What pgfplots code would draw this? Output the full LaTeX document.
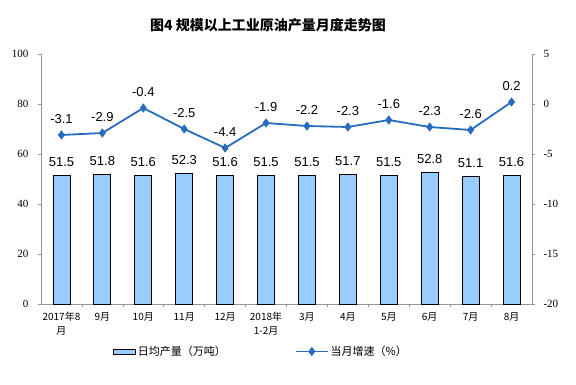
\documentclass[border=0pt]{standalone}
\usepackage{pgfplots}
\pgfplotsset{compat=1.18}
\usepackage{fontspec}
\setmainfont{Liberation Sans}
\newfontfamily\cjk{Noto Sans CJK SC}
\newfontfamily\serif{Liberation Serif}
\definecolor{barblue}{RGB}{153,204,255}
\definecolor{lineblue}{RGB}{40,108,190}
\definecolor{axgray}{RGB}{150,150,150}
\begin{document}
\begin{tikzpicture}
\useasboundingbox (-41pt,-80pt) rectangle (535pt,304pt);
\begin{axis}[
  scale only axis, width=491pt, height=250pt,
  xmin=-0.5, xmax=11.5, ymin=0, ymax=100,
  axis x line*=bottom, axis y line*=left,
  axis line style={draw=axgray, line width=0.6pt},
  xtick={0,...,11},
  xticklabels={{2017年8\\月},9月,10月,11月,12月,{2018年\\1-2月},3月,4月,5月,6月,7月,8月},
  x tick label style={font=\cjk\fontsize{10}{14}\selectfont, align=center, anchor=north, yshift=-2pt},
  major x tick style={draw=none},
  minor x tick num=1,
  minor x tick style={draw=axgray, line width=0.6pt},
  minor tick length=3pt,
  ytick={0,20,...,100},
  y tick label style={font=\serif\fontsize{11}{12}\selectfont, xshift=-6pt},
  /pgf/number format/assume math mode=true,
  tick align=outside, major tick length=3pt,
  major y tick style={draw=axgray, line width=0.6pt},
  legend style={at={(0.14,-0.19)}, anchor=west, draw=none, fill=none,
    legend columns=2, font=\cjk\fontsize{11}{13}\selectfont,
    /tikz/every even column/.append style={column sep=67pt}},
]
\addplot[ybar, bar width=17pt, fill=barblue, draw=black, line width=0.8pt,
  nodes near coords,
  nodes near coords style={font=\fontsize{13}{14}\selectfont, color=black, anchor=south, yshift=5pt,
    /pgf/number format/.cd, fixed, fixed zerofill, precision=1},
  legend image code/.code={\draw[fill=barblue, draw=black, line width=1pt] (0pt,-2.5pt) rectangle (22pt,2.5pt);}
] coordinates {
  (0,51.5) (1,51.8) (2,51.6) (3,52.3) (4,51.6) (5,51.5)
  (6,51.5) (7,51.7) (8,51.5) (9,52.8) (10,51.1) (11,51.6)
};
\addlegendentry{日均产量（万吨）}
\addlegendimage{legend image code/.code={\draw[lineblue, line width=1.8pt, mark=diamond*, mark size=3.2pt, mark repeat=2, mark phase=2] plot coordinates {(0pt,0pt)(16pt,0pt)(32pt,0pt)};}}
\addlegendentry{当月增速（\%）}
\end{axis}
\begin{axis}[
  scale only axis, width=491pt, height=250pt,
  xmin=-0.5, xmax=11.5, ymin=-20, ymax=5,
  axis y line*=right, axis x line=none,
  axis line style={draw=axgray, line width=0.6pt},
  ytick={-20,-15,...,5},
  y tick label style={font=\serif\fontsize{11}{12}\selectfont, xshift=5pt},
  /pgf/number format/assume math mode=true,
  tick align=outside, major tick length=3pt,
  major y tick style={draw=axgray, line width=0.6pt},
]
\addplot[lineblue, line width=1.8pt, mark=diamond*, mark size=3.2pt,
  nodes near coords,
  nodes near coords style={font=\fontsize{13}{14}\selectfont, color=black, anchor=south, yshift=7pt,
    /pgf/number format/.cd, fixed, fixed zerofill, precision=1}
] coordinates {
  (0,-3.1) (1,-2.9) (2,-0.4) (3,-2.5) (4,-4.4) (5,-1.9)
  (6,-2.2) (7,-2.3) (8,-1.6) (9,-2.3) (10,-2.6) (11,0.2)
};
\end{axis}
\node[font=\cjk\fontsize{14}{16}\selectfont\bfseries] at (227pt,279pt) {图4 规模以上工业原油产量月度走势图};
\end{tikzpicture}
\end{document}
